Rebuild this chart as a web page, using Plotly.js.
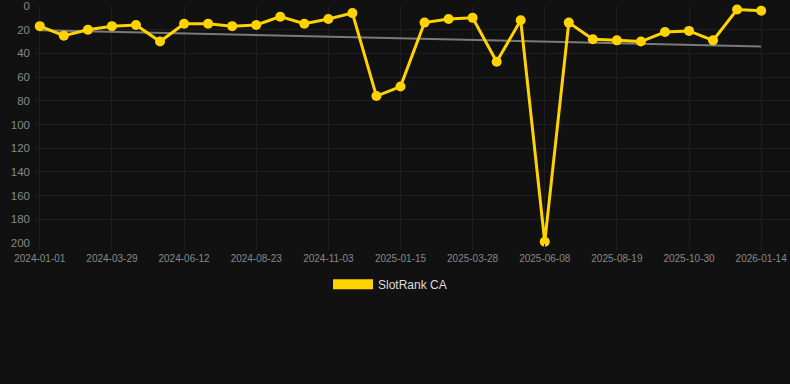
<!DOCTYPE html>
<html>
<head>
<meta charset="utf-8">
<script src="https://cdn.plot.ly/plotly-3.0.1.min.js"></script>
<style>
html,body{margin:0;padding:0;background:#111111;}
#chart{width:790px;height:384px;}
</style>
</head>
<body>
<div id="chart"></div>
<script>
var dates = [
  "2024-01-01","2024-01-30","2024-02-28","2024-03-29","2024-04-23","2024-05-18",
  "2024-06-12","2024-07-06","2024-07-30","2024-08-23","2024-09-16","2024-10-10",
  "2024-11-03","2024-11-27","2024-12-21","2025-01-15","2025-02-08","2025-03-04",
  "2025-03-28","2025-04-21","2025-05-15","2025-06-08","2025-07-02","2025-07-26",
  "2025-08-19","2025-09-12","2025-10-06","2025-10-30","2025-11-24","2025-12-19",
  "2026-01-14"
];
var ranks = [17,25,20,17,16,30,15,15,17,16,9,15,11,6,76,68,14,11,10,47,12,199,14,28,29,30,22,21,29,3,4];
var tickLabels = ["2024-01-01","2024-03-29","2024-06-12","2024-08-23","2024-11-03","2025-01-15","2025-03-28","2025-06-08","2025-08-19","2025-10-30","2026-01-14"];
var yTicks = [0,20,40,60,80,100,120,140,160,180,200];
var seriesName = "SlotRank CA";

// linear regression trend over point index
var n = ranks.length, sx=0, sy=0, sxx=0, sxy=0;
for (var i=0;i<n;i++){ sx+=i; sy+=ranks[i]; sxx+=i*i; sxy+=i*ranks[i]; }
var slope = (n*sxy - sx*sy)/(n*sxx - sx*sx);
var icpt = (sy - slope*sx)/n;
var trendX = [dates[0], dates[n-1]];
var trendY = [icpt, icpt + slope*(n-1)];

var gold = '#FFD300';
var traces = [
  {x: trendX, y: trendY, type:'scatter', mode:'lines', showlegend:false,
   line:{color:'#7a7a7a', width:2}, hoverinfo:'skip'},
  {x: dates, y: ranks, type:'scatter', mode:'lines+markers', name: seriesName, showlegend:false,
   cliponaxis:false,
   line:{color:gold, width:3}, marker:{color:gold, size:10}},
  {x: [null], y: [null], type:'scatter', mode:'lines', name: seriesName, showlegend:true,
   line:{color:gold, width:10}}
];

var layout = {
  width:790, height:384,
  paper_bgcolor:'#111111', plot_bgcolor:'#111111',
  margin:{l:35, r:0, t:6, b:141},
  font:{family:'"Liberation Sans", Arial, sans-serif', color:'#888888'},
  showlegend:true,
  xaxis:{type:'category', categoryorder:'array', categoryarray:dates,
    range:[-0.2, 31.2], tickmode:'array', tickvals:tickLabels, ticktext:tickLabels,
    showgrid:true, gridcolor:'#1f1f1f', zeroline:false, showline:false,
    ticks:'outside', ticklen:6, tickcolor:'#1f1f1f',
    tickfont:{size:10, color:'#888888'}},
  yaxis:{range:[200,0], tickmode:'array', tickvals:yTicks,
    showgrid:true, gridcolor:'#1f1f1f', zeroline:false, showline:false,
    ticklabelstandoff:4,
    tickfont:{size:11.5, color:'#888888'}},
  legend:{orientation:'h', xref:'container', yref:'container', x:0.4937, xanchor:'center', y:0.26, yanchor:'middle',
    font:{size:12, color:'#dddddd'}, itemwidth:40, bgcolor:'rgba(0,0,0,0)'}
};

Plotly.newPlot('chart', traces, layout, {displayModeBar:false, staticPlot:true});
</script>
</body>
</html>
